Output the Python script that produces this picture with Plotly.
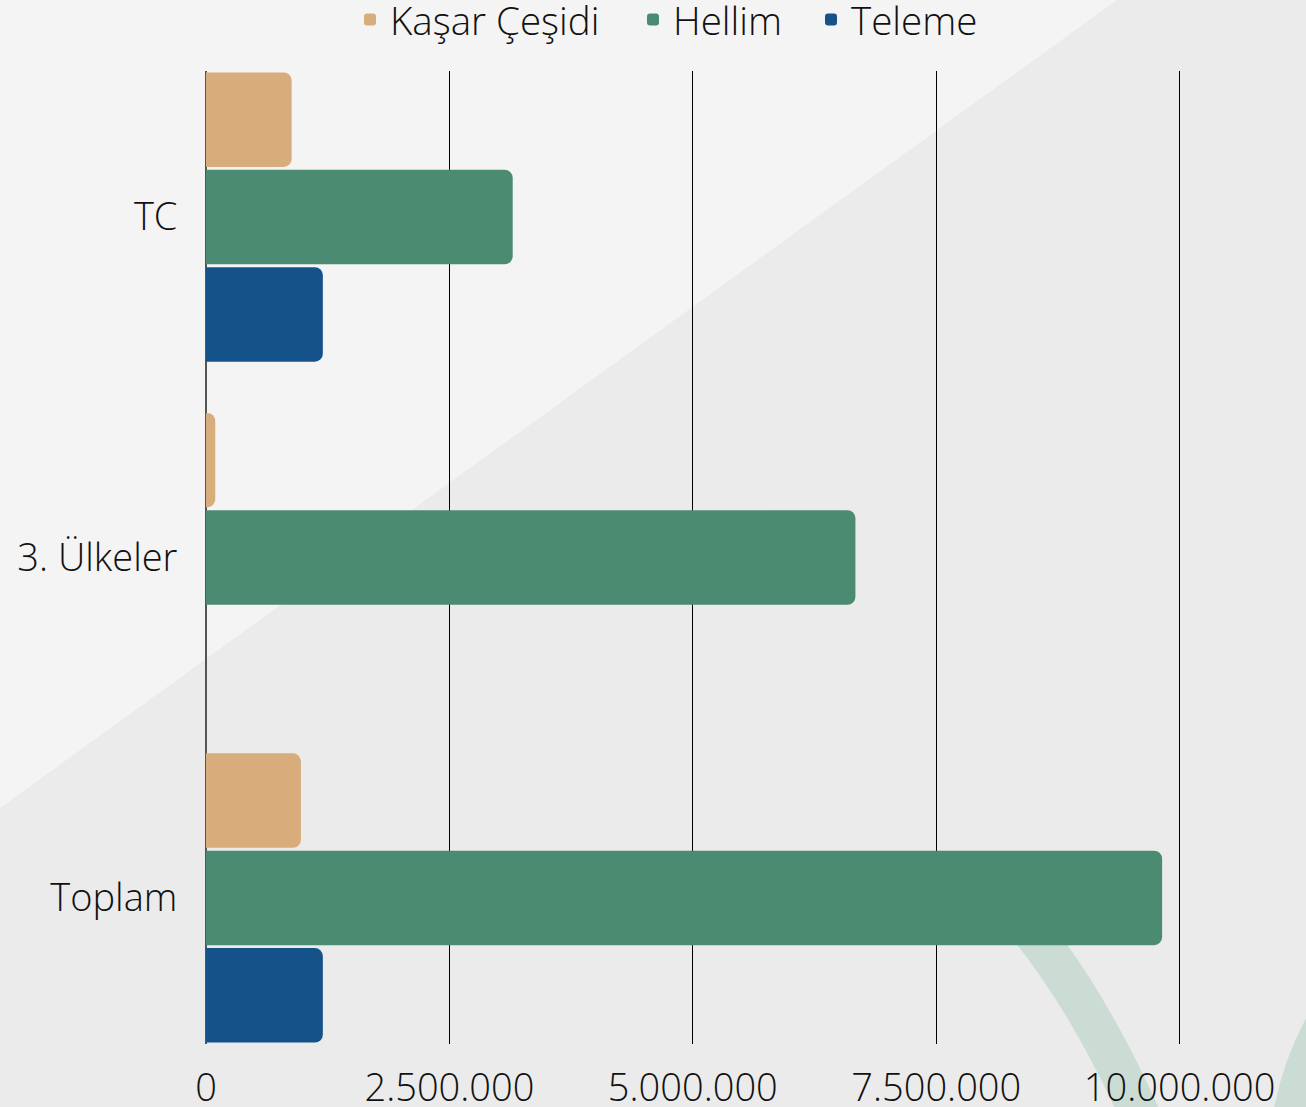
import plotly.graph_objects as go

# categories and series
categories = ["TC", "3. Ülkeler", "Toplam"]
kasar = [880000, 95000, 975000]
hellim = [3150000, 6670000, 9820000]
teleme = [1200000, None, 1200000]

tick_vals = [0, 2500000, 5000000, 7500000, 10000000]
tick_text = ["0", "2.500.000", "5.000.000", "7.500.000", "10.000.000"]

series = [
    ("Kaşar Çeşidi", kasar, "#d8ad7b", "legend", 370),
    ("Hellim", hellim, "#4a8b72", "legend2", 653),
    ("Teleme", teleme, "#15528a", "legend3", 831),
]

W, H = 1306, 1107
# plot area in pixels
L, R, T, B = 206, 1277, 71, 1044

fig = go.Figure()
for name, vals, col, leg, _ in series:
    fig.add_trace(go.Bar(
        y=categories, x=vals, name=name, orientation="h", legend=leg,
        marker=dict(color=col, cornerradius=8, line=dict(width=0)),
    ))


def px(x, y):
    # pixel position -> paper coords
    return (x - L) / (R - L), (B - y) / (B - T)


# background: lighter triangle in top-left, darker rest
pts = [px(0, 0), px(1117, 0), px(0, 808)]
path = "M {} {} L {} {} L {} {} Z".format(*[c for p in pts for c in p])
shapes = [dict(type="path", path=path, xref="paper", yref="paper",
               fillcolor="#f4f4f4", line=dict(width=0), layer="below")]

# faint green arcs (decoration) bottom right
a0, a1, a2 = px(985, 880), px(1070, 960), px(1140, 1115)
shapes.append(dict(type="path", xref="paper", yref="paper", layer="below",
                   path="M {} {} Q {} {} {} {}".format(*a0, *a1, *a2),
                   line=dict(color="#cbdcd5", width=40)))
b0, b1, b2 = px(1290, 1115), px(1300, 1060), px(1330, 1010)
shapes.append(dict(type="path", xref="paper", yref="paper", layer="below",
                   path="M {} {} Q {} {} {} {}".format(*b0, *b1, *b2),
                   line=dict(color="#cbdcd5", width=34)))

font = dict(family="Open Sans", color="#111111", size=38, weight=300)

# one legend per series so each entry sits where the reference has it
legends = {}
for name, _, _, leg, mx in series:
    legends[leg] = dict(
        orientation="h", xref="container", yref="container",
        x=(mx - 20) / W, xanchor="left", y=1 - 20 / H, yanchor="middle",
        font=dict(family="Open Sans", size=38.5, color="#111111", weight=300),
        bgcolor="rgba(0,0,0,0)",
    )

fig.update_layout(
    width=W, height=H,
    margin=dict(l=L, r=W - R, t=T, b=H - B),
    paper_bgcolor="#ebebeb",
    plot_bgcolor="rgba(0,0,0,0)",
    barmode="group",
    bargap=0.142,
    bargroupgap=0.03,
    font=font,
    shapes=shapes,
    showlegend=True,
    xaxis=dict(
        range=[0, 11000000],
        tickvals=tick_vals, ticktext=tick_text,
        showgrid=True, gridcolor="#000000", gridwidth=1,
        zeroline=True, zerolinecolor="#555555", zerolinewidth=1.5,
        showline=False, automargin=False,
        ticks="outside", ticklen=10, tickcolor="rgba(0,0,0,0)",
        tickfont=font,
    ),
    yaxis=dict(
        range=[2.429, -0.429],
        showgrid=False, zeroline=False, showline=False, automargin=False,
        ticks="outside", ticklen=20, tickcolor="rgba(0,0,0,0)",
        tickfont=font,
    ),
    **legends,
)

page_fix = ("document.body.style.margin='0';"
            "document.body.style.overflow='hidden';"
            "document.documentElement.style.overflow='hidden';")
fig.write_html("out.html", config={"displayModeBar": False}, post_script=page_fix)
